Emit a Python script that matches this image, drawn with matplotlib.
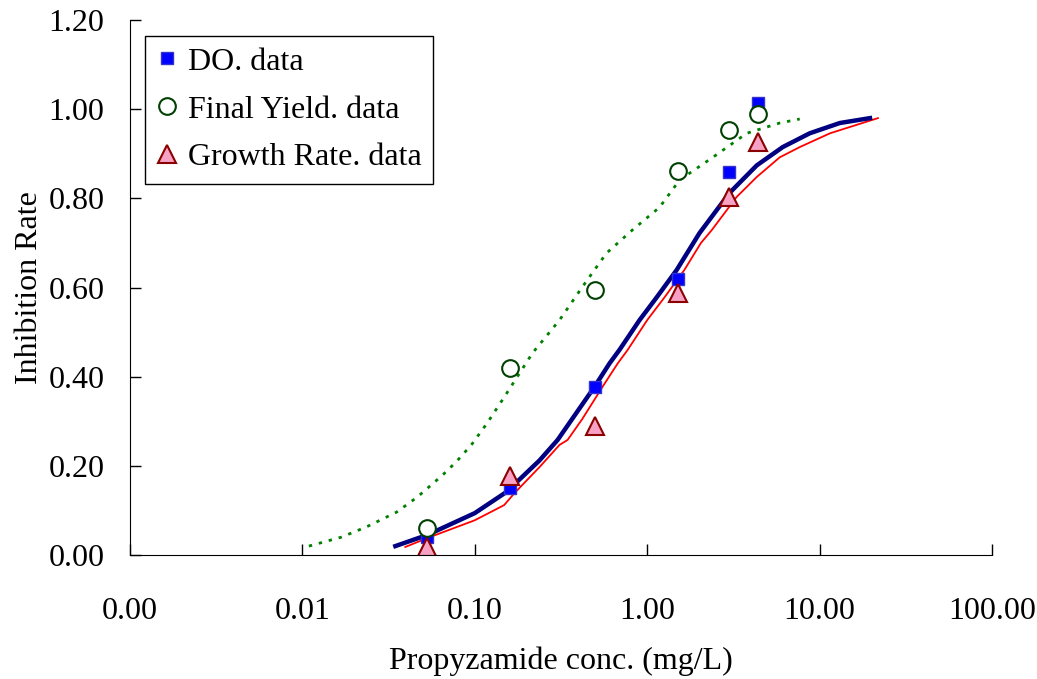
# -*- coding: utf-8 -*-

import numpy as np
import matplotlib
matplotlib.use('Agg')
import matplotlib.pyplot as plt
from matplotlib.ticker import FixedLocator, FormatStrFormatter, NullLocator

plt.rcParams['font.family'] = ['Liberation Serif', 'DejaVu Serif']

# measured data
conc = [0.053, 0.16, 0.5, 1.5, 3.0, 4.4]
do_data = [0.04, 0.15, 0.377, 0.619, 0.859, 1.013]
fy_data = [0.06, 0.42, 0.594, 0.861, 0.953, 0.989]
gr_data = [0.018, 0.177, 0.289, 0.588, 0.803, 0.926]

# fitted curves
do_fit_x = [0.0346, 0.053, 0.1, 0.152, 0.237, 0.302, 0.494, 0.605, 0.69, 0.903,
            1.135, 1.48, 2.01, 3.0, 4.32, 6.11, 8.77, 13.1, 19.6]
do_fit_y = [0.020, 0.045, 0.094, 0.141, 0.212, 0.258, 0.377, 0.43, 0.46, 0.527,
            0.578, 0.639, 0.722, 0.812, 0.874, 0.915, 0.946, 0.969, 0.980]

gr_fit_x = [0.0395, 0.053, 0.1, 0.148, 0.17, 0.237, 0.31, 0.345, 0.42, 0.55, 0.675,
            0.77, 1.0, 1.26, 1.64, 2.05, 2.37, 3.30, 4.32, 5.87, 7.67, 11.5, 21.8]
gr_fit_y = [0.018, 0.038, 0.078, 0.112, 0.139, 0.197, 0.247, 0.258, 0.305, 0.377, 0.43,
            0.46, 0.527, 0.578, 0.639, 0.70, 0.729, 0.803, 0.848, 0.892, 0.915, 0.946, 0.98]

fy_fit_x = [0.0109, 0.0168, 0.0235, 0.0351, 0.0464, 0.0649, 0.078, 0.0955, 0.118,
            0.148, 0.216, 0.31, 0.42, 0.58, 0.82, 1.18, 1.54, 2.40, 3.78, 5.87, 7.67]
fy_fit_y = [0.020, 0.040, 0.063, 0.096, 0.13, 0.179, 0.209, 0.247, 0.296,
            0.354, 0.453, 0.527, 0.601, 0.677, 0.729, 0.78, 0.841, 0.892, 0.946, 0.969, 0.978]

x_ticks = [0.001, 0.01, 0.1, 1, 10, 100]
y_ticks = [0.0, 0.2, 0.4, 0.6, 0.8, 1.0, 1.2]

fig = plt.figure(figsize=(10.37, 6.79), dpi=100)
ax = fig.add_axes([0.1254, 0.1826, 0.8312, 0.7879])

ax.plot(fy_fit_x, fy_fit_y, color='#008000', lw=2, linestyle=(0, (1.2, 2.5)))
ax.plot(gr_fit_x, gr_fit_y, color='#ff0000', lw=1.3)
ax.plot(do_fit_x, do_fit_y, color='#000080', lw=3.2)

ax.plot(conc, do_data, 's', ms=9, mfc='#0000ff', mec='#3333cc', mew=1,
        label='DO. data')
ax.plot(conc, fy_data, 'o', ms=12, mfc='white', mec='#004000', mew=1.5,
        label='Final Yield. data')
ax.plot(conc, gr_data, '^', ms=13, mfc='#f7a1c4', mec='#8b0000', mew=1.5,
        label='Growth Rate. data')

ax.set_xscale('log')
ax.set_xlim(0.001, 100)
ax.set_ylim(0, 1.2)
ax.xaxis.set_major_locator(FixedLocator(x_ticks))
ax.xaxis.set_minor_locator(NullLocator())
ax.xaxis.set_major_formatter(FormatStrFormatter('%.2f'))
ax.yaxis.set_major_locator(FixedLocator(y_ticks))
ax.yaxis.set_major_formatter(FormatStrFormatter('%.2f'))

ax.tick_params(axis='both', direction='in', length=8, width=1, labelsize=23)
ax.tick_params(axis='x', pad=30)
ax.tick_params(axis='y', pad=18.5)
ax.spines['top'].set_visible(False)
ax.spines['right'].set_visible(False)

ax.set_xlabel('Propyzamide conc. (mg/L)', fontsize=23, labelpad=15)
ax.set_ylabel('Inhibition Rate', fontsize=23, labelpad=3)

leg = ax.legend(loc='upper left', bbox_to_anchor=(0.017, 0.97), numpoints=1,
                fontsize=23, fancybox=False, edgecolor='black', framealpha=1,
                handlelength=0.7, handletextpad=0.3, borderpad=0.35, labelspacing=0.58,
                borderaxespad=0)
leg.get_frame().set_linewidth(1)

fig.savefig('out.png', dpi=100)
